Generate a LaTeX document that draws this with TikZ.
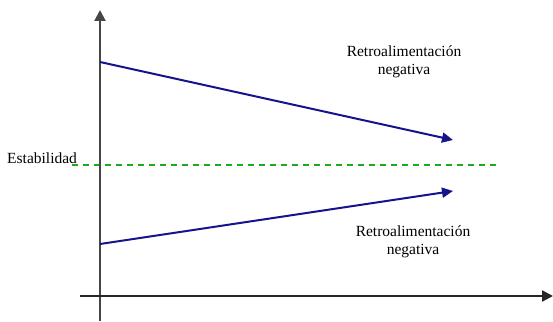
\documentclass[tikz,border=0pt]{standalone}
\usepackage{fontspec}
\setmainfont{Liberation Serif}
\usetikzlibrary{arrows.meta}
\definecolor{navy}{RGB}{20,20,140}
\definecolor{axisgray}{RGB}{70,70,70}
\definecolor{dgreen}{RGB}{30,170,30}
\tikzset{
  axisline/.style={draw=axisgray,line width=2.2pt,-{Triangle[length=11pt,width=11pt]}},
  trend/.style={draw=navy,line width=2pt,-{Triangle[length=11pt,width=10pt]}},
  lbl/.style={font=\fontsize{15.5}{18}\selectfont,align=center,inner sep=0pt},
}
\begin{document}
\begin{tikzpicture}[x=1pt,y=-1pt]
\useasboundingbox (0,0) rectangle (553,321);
\coordinate (ybot) at (100,321);
\coordinate (ytop) at (100,10);
\coordinate (xl) at (80,296);
\coordinate (xr) at (553,296);
\coordinate (a1) at (100,62);
\coordinate (a2) at (453,140);
\coordinate (b1) at (100,244);
\coordinate (b2) at (453,191);
\coordinate (s1) at (72,165);
\coordinate (s2) at (500,165);
\draw[draw=dgreen,line width=1.5pt,dash pattern=on 6pt off 5pt] (s1) -- (s2);
\draw[axisline] (ybot) -- (ytop);
\draw[axisline,draw=black!85] (xl) -- (xr);
\draw[trend] (a1) -- (a2);
\draw[trend] (b1) -- (b2);
\node[lbl] (t1) at (404,62) {Retroalimentación\\negativa};
\node[lbl] (t2) at (413,242) {Retroalimentación\\negativa};
\node[lbl,anchor=west] (st) at (7,158) {Estabilidad};
\end{tikzpicture}
\end{document}
